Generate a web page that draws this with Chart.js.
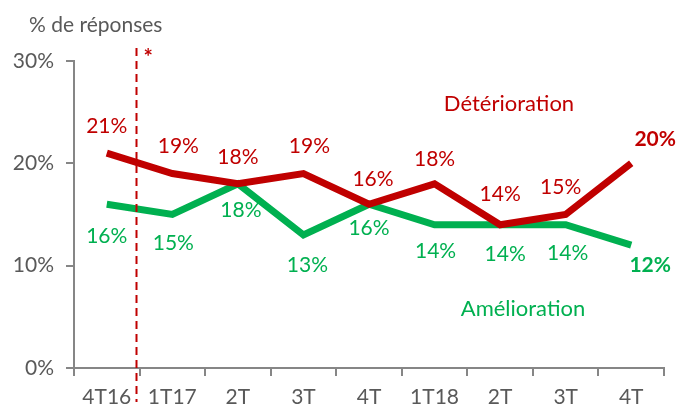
<!DOCTYPE html>
<html lang="fr">
  <head>
    <meta charset="UTF-8" />
    <script src="https://cdn.jsdelivr.net/npm/chart.js@4.4.0/dist/chart.umd.min.js"></script>
    <title>Détérioration / Amélioration</title>
    <style>
      body {
        margin: 0;
        padding: 0;
        background: white;
      }
      .container {
        position: relative;
        width: 681px;
        height: 408px;
      }
    </style>
  </head>
  <body>
    <div class="container">
      <canvas id="chart"></canvas>
    </div>
    <script>
      const categories = ['4T16', '1T17', '2T', '3T', '4T', '1T18', '2T', '3T', '4T']
      const deterioration = [21, 19, 18, 19, 16, 18, 14, 15, 20]
      const amelioration = [16, 15, 18, 13, 16, 14, 14, 14, 12]
      const yTicks = [0, 10, 20, 30]

      const RED = '#C00000'
      const GREEN = '#00B050'
      const GREY = '#595959'
      const FONT = 'Lato, "Open Sans", sans-serif'

      // label placement, relative to each point
      const labelStyle = [
        { color: RED, dy: [-27, -27, -27, -27, -25, -25, -30, -27, -24], dx: [0, 6, 0, 6, 4, 0, 0, -5, 24] },
        { color: GREEN, dy: [32, 29, 26, 30, 24, 27, 30, 29, 20], dx: [0, 1, 3, 4, 0, 1, 5, 2, 19] },
      ]

      const overlay = {
        id: 'overlay',
        afterDatasetsDraw(chart) {
          const { ctx, scales } = chart
          const x = scales.x
          const y = scales.y
          ctx.save()

          // dashed separator between 4T16 and 1T17
          const sx = Math.round(x.getPixelForValue(0.44)) + 0.5
          ctx.strokeStyle = RED
          ctx.lineWidth = 2
          ctx.setLineDash([8, 5])
          ctx.beginPath()
          ctx.moveTo(sx, 48)
          ctx.lineTo(sx, 402)
          ctx.stroke()
          ctx.setLineDash([])

          ctx.fillStyle = RED
          ctx.font = 'bold 22px ' + FONT
          ctx.textAlign = 'left'
          ctx.textBaseline = 'middle'
          ctx.fillText('*', sx + 7, 58)

          // point labels
          ctx.textAlign = 'center'
          chart.data.datasets.forEach((ds, di) => {
            const st = labelStyle[di]
            ctx.fillStyle = st.color
            ds.data.forEach((v, i) => {
              const last = i === ds.data.length - 1
              ctx.font = (last ? 'bold ' : '') + '21px ' + FONT
              const px = x.getPixelForValue(i) + st.dx[i]
              const py = y.getPixelForValue(v) + st.dy[i]
              ctx.fillText(v + '%', px, py)
            })
          })

          // series names
          ctx.font = '22px ' + FONT
          ctx.fillStyle = RED
          ctx.fillText('Détérioration', 509, 104)
          ctx.fillStyle = GREEN
          ctx.fillText('Amélioration', 523, 309)

          // unit
          ctx.font = '21px ' + FONT
          ctx.fillStyle = GREY
          ctx.textAlign = 'left'
          ctx.fillText('% de réponses', 29, 25)
          ctx.restore()
        },
      }

      new Chart(document.getElementById('chart'), {
        type: 'line',
        data: {
          labels: categories,
          datasets: [
            {
              label: 'Détérioration',
              data: deterioration,
              borderColor: RED,
              borderWidth: 7,
              pointRadius: 0,
              tension: 0,
            },
            {
              label: 'Amélioration',
              data: amelioration,
              borderColor: GREEN,
              borderWidth: 7,
              pointRadius: 0,
              tension: 0,
            },
          ],
        },
        options: {
          responsive: true,
          maintainAspectRatio: false,
          animation: false,
          layout: {
            padding: { top: 61, right: 17, left: 0, bottom: 0 },
          },
          plugins: {
            legend: { display: false },
            tooltip: { enabled: false },
          },
          scales: {
            x: {
              offset: true,
              afterFit: (scale) => {
                scale.height = 40
              },
              grid: {
                offset: true,
                drawOnChartArea: false,
                color: '#868686',
                lineWidth: 2,
                tickLength: 8,
              },
              border: { color: '#868686', width: 2 },
              ticks: {
                color: GREY,
                font: { family: FONT, size: 21 },
                padding: 9,
                maxRotation: 0,
                autoSkip: false,
              },
            },
            y: {
              min: 0,
              max: 30,
              afterFit: (scale) => {
                scale.width = 74
              },
              afterBuildTicks: (scale) => {
                scale.ticks = yTicks.map((v) => ({ value: v }))
              },
              grid: {
                drawOnChartArea: false,
                color: '#868686',
                lineWidth: 2,
                tickLength: 8,
              },
              border: { color: '#868686', width: 2 },
              ticks: {
                color: GREY,
                font: { family: FONT, size: 21 },
                padding: 12,
                callback: (v) => v + '%',
              },
            },
          },
        },
        plugins: [overlay],
      })
    </script>
  </body>
</html>
